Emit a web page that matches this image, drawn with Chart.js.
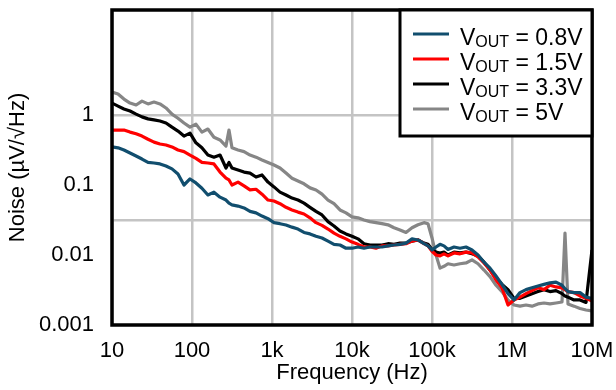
<!DOCTYPE html>
<html>
<head>
<meta charset="utf-8">
<script src="https://cdn.jsdelivr.net/npm/chart.js@4.4.1/dist/chart.umd.min.js"></script>
<style>
  html, body { margin: 0; padding: 0; background: #fff; }
  #wrap { width: 616px; height: 390px; }
</style>
</head>
<body>
<div id="wrap"><canvas id="noise-chart" width="616" height="390"></canvas></div>
<script>
// Frequency points (Hz) shared by every curve
const freqs = [10, 11.9, 14.1, 16.8, 20, 23.7, 28.2, 33.5, 39.8, 47.3,
    56.2, 66.8, 79.4, 94.4, 112, 133, 158, 188, 224, 266,
    290, 316, 376, 447, 531, 631, 750, 891, 1059, 1259,
    1496, 1778, 2113, 2512, 2985, 3548, 4217, 5012, 5957, 7079,
    8414, 10000, 11885, 14125, 16788, 19953, 23714, 28184, 33497, 39811,
    47315, 56234, 66834, 79433, 89125, 100000, 112202, 125893, 141254, 158489,
    188365, 223872, 266073, 316228, 375837, 446684, 530884, 630957, 749894, 891251,
    1059254, 1258925, 1496236, 1778279, 2113489, 2511886, 2985383, 3548134, 4216965, 4597000,
    5011872, 5956621, 7079458, 8413951, 10000000];

// Noise (uV/rtHz) per output voltage
const noise08 = [0.35, 0.34, 0.316, 0.287, 0.26, 0.235, 0.21, 0.206, 0.20, 0.187,
    0.17, 0.144, 0.10, 0.122, 0.107, 0.09, 0.072, 0.079, 0.067, 0.061,
    0.055, 0.052, 0.05, 0.047, 0.042, 0.040, 0.036, 0.033, 0.029, 0.028,
    0.0268, 0.025, 0.0235, 0.021, 0.020, 0.0185, 0.0175, 0.0158, 0.0142, 0.0139,
    0.0125, 0.0125, 0.013, 0.0125, 0.013, 0.013, 0.013, 0.0135, 0.0139, 0.0142,
    0.0148, 0.017, 0.0164, 0.0145, 0.0135, 0.0118, 0.013, 0.0142, 0.0135, 0.012,
    0.013, 0.0125, 0.013, 0.0118, 0.010, 0.0079, 0.0065, 0.0050, 0.0038, 0.0028,
    0.00228, 0.0029, 0.0032, 0.0034, 0.0036, 0.0038, 0.0040, 0.0041, 0.0037, 0.0033,
    0.0030, 0.0029, 0.0029, 0.0025, 0.0024];

const noise15 = [0.61, 0.61, 0.61, 0.57, 0.54, 0.50, 0.45, 0.41, 0.385, 0.373,
    0.35, 0.316, 0.30, 0.268, 0.24, 0.21, 0.206, 0.20, 0.153, 0.125,
    0.118, 0.10, 0.11, 0.097, 0.085, 0.087, 0.074, 0.061, 0.059, 0.054,
    0.048, 0.044, 0.041, 0.0385, 0.034, 0.029, 0.0265, 0.0235, 0.0205, 0.0185,
    0.017, 0.0153, 0.0142, 0.0130, 0.0130, 0.0125, 0.0135, 0.0135, 0.0139, 0.0142,
    0.0145, 0.0158, 0.0164, 0.0145, 0.0135, 0.0113, 0.010, 0.0097, 0.0104, 0.0097,
    0.0107, 0.0104, 0.011, 0.0107, 0.0094, 0.0077, 0.0061, 0.0044, 0.0034, 0.00193,
    0.00228, 0.0025, 0.0028, 0.0031, 0.0034, 0.0032, 0.0037, 0.0035, 0.0034, 0.0032,
    0.0030, 0.0029, 0.0026, 0.0024, 0.0022];

const noise33 = [1.48, 1.34, 1.22, 1.14, 1.03, 0.94, 0.88, 0.85, 0.82, 0.77,
    0.67, 0.59, 0.50, 0.55, 0.40, 0.34, 0.268, 0.25, 0.268, 0.175,
    0.21, 0.175, 0.164, 0.153, 0.148, 0.13, 0.139, 0.11, 0.094, 0.079,
    0.072, 0.065, 0.061, 0.055, 0.048, 0.042, 0.0373, 0.030, 0.026, 0.022,
    0.020, 0.0185, 0.017, 0.0145, 0.0139, 0.0139, 0.0139, 0.0145, 0.0142, 0.0148,
    0.0148, 0.0158, 0.0164, 0.0148, 0.0142, 0.012, 0.011, 0.0107, 0.011, 0.010,
    0.011, 0.0107, 0.011, 0.0104, 0.0097, 0.0079, 0.0061, 0.0047, 0.0038, 0.0032,
    0.0024, 0.0024, 0.0026, 0.0028, 0.0030, 0.0032, 0.0030, 0.0031, 0.0028, 0.0026,
    0.0025, 0.00228, 0.00228, 0.0021, 0.0118];

const noise50 = [2.13, 2.0, 1.69, 1.48, 1.39, 1.58, 1.44, 1.53, 1.44, 1.26,
    1.03, 0.90, 0.77, 0.67, 0.74, 0.57, 0.63, 0.48, 0.44, 0.36,
    0.61, 0.34, 0.316, 0.30, 0.268, 0.25, 0.228, 0.21, 0.193, 0.175,
    0.148, 0.125, 0.114, 0.104, 0.091, 0.085, 0.074, 0.061, 0.054, 0.044,
    0.040, 0.035, 0.034, 0.0316, 0.030, 0.029, 0.028, 0.027, 0.0245, 0.0228,
    0.021, 0.0245, 0.027, 0.029, 0.028, 0.0175, 0.010, 0.0065, 0.0069, 0.0075,
    0.0072, 0.0075, 0.0077, 0.0085, 0.0075, 0.0061, 0.0049, 0.0037, 0.0030, 0.00228,
    0.00193, 0.00186, 0.00193, 0.00186, 0.0020, 0.00206, 0.0020, 0.00206, 0.00213, 0.0206,
    0.0020, 0.00186, 0.00172, 0.00164, 0.00159];

const voutLabels = ['0.8V', '1.5V', '3.3V', '5V'];
const seriesColors = ['#114e6e', '#ff0000', '#000000', '#868686'];

const xTickValues = [10, 100, 1e3, 1e4, 1e5, 1e6, 1e7];
const xTickLabels = ['10', '100', '1k', '10k', '100k', '1M', '10M'];
const yTickValues = [0.001, 0.01, 0.1, 1];
const yTickLabels = ['0.001', '0.01', '0.1', '1'];
// horizontal grid lines sit every 1.5 decades
const yGridValues = [Math.pow(10, -1.5), 1];

const FONT = '"Liberation Sans", Arial, sans-serif';

function toPoints(values) {
    return freqs.map((f, i) => ({ x: f, y: values[i] }));
}

// Black frame around the plot
const framePlugin = {
    id: 'frame',
    afterDatasetsDraw(chart) {
        const a = chart.chartArea;
        const ctx = chart.ctx;
        ctx.save();
        ctx.strokeStyle = '#000';
        ctx.lineWidth = 3.5;
        ctx.strokeRect(a.left, a.top, a.right - a.left, a.bottom - a.top);
        ctx.restore();
    }
};

// Legend box with subscripted V_OUT
const voutLegend = {
    id: 'voutLegend',
    afterDatasetsDraw(chart) {
        const ctx = chart.ctx;
        const a = chart.chartArea;
        const boxLeft = 400, boxTop = a.top, boxRight = a.right, boxBottom = 136;
        ctx.save();
        ctx.fillStyle = '#fff';
        ctx.fillRect(boxLeft, boxTop, boxRight - boxLeft, boxBottom - boxTop);
        ctx.strokeStyle = '#000';
        ctx.lineWidth = 3;
        ctx.strokeRect(boxLeft, boxTop, boxRight - boxLeft, boxBottom - boxTop);

        voutLabels.forEach((lbl, i) => {
            const y = 34 + i * 25;
            ctx.strokeStyle = seriesColors[i];
            ctx.lineWidth = 3;
            ctx.beginPath();
            ctx.moveTo(413, y);
            ctx.lineTo(449, y);
            ctx.stroke();

            const base = y + 11;
            let x = 460;
            ctx.fillStyle = '#000';
            ctx.textBaseline = 'alphabetic';
            ctx.textAlign = 'left';
            ctx.font = '23px ' + FONT;
            ctx.fillText('V', x, base);
            x += ctx.measureText('V').width;
            ctx.font = '16px ' + FONT;
            ctx.fillText('OUT', x, base + 2);
            x += ctx.measureText('OUT').width;
            ctx.font = '23px ' + FONT;
            ctx.fillText(' = ' + lbl, x, base);
        });
        ctx.restore();
    }
};

const ctx = document.getElementById('noise-chart');
new Chart(ctx, {
    type: 'line',
    data: {
        datasets: [noise08, noise15, noise33, noise50].map((vals, i) => ({
            label: 'VOUT = ' + voutLabels[i],
            data: toPoints(vals),
            borderColor: seriesColors[i],
            borderWidth: 3.2,
            borderJoinStyle: 'round',
            pointRadius: 0,
            tension: 0,
            fill: false
        }))
    },
    options: {
        responsive: false,
        animation: false,
        layout: { padding: { top: 10, right: 24, left: 0, bottom: 0 } },
        plugins: {
            legend: { display: false },
            tooltip: { enabled: false }
        },
        scales: {
            x: {
                type: 'logarithmic',
                min: 10,
                max: 1e7,
                afterBuildTicks(scale) {
                    scale.ticks = xTickValues.map(v => ({ value: v }));
                },
                afterFit(scale) {
                    scale.height = 65;
                    scale.paddingLeft = 0;
                    scale.paddingRight = 0;
                },
                grid: { color: '#c4c4c4', lineWidth: 2.5, drawTicks: false },
                border: { display: false },
                ticks: {
                    color: '#000',
                    font: { family: FONT, size: 22 },
                    padding: 13,
                    maxRotation: 0,
                    autoSkip: false,
                    callback: (v) => {
                        const i = xTickValues.indexOf(v);
                        return i >= 0 ? xTickLabels[i] : '';
                    }
                },
                title: {
                    display: true,
                    text: 'Frequency (Hz)',
                    color: '#000',
                    font: { family: FONT, size: 22 },
                    padding: { top: 0, bottom: 4 }
                }
            },
            y: {
                type: 'logarithmic',
                min: 0.001,
                max: Math.pow(10, 1.5),
                afterBuildTicks(scale) {
                    const vals = [0.001, Math.pow(10, -1.5), 0.01, 0.1, 1];
                    scale.ticks = vals.map(v => ({ value: v }));
                },
                afterFit(scale) {
                    scale.width = 112;
                    scale.paddingTop = 0;
                    scale.paddingBottom = 0;
                },
                grid: {
                    drawTicks: false,
                    lineWidth: 2.5,
                    color: (c) => {
                        const v = c.tick ? c.tick.value : null;
                        return yGridValues.some(g => v !== null && Math.abs(Math.log10(v) - Math.log10(g)) < 1e-6)
                            ? '#c4c4c4' : 'rgba(0,0,0,0)';
                    }
                },
                border: { display: false },
                ticks: {
                    color: '#000',
                    font: { family: FONT, size: 22 },
                    padding: 18,
                    autoSkip: false,
                    callback: (v) => {
                        const i = yTickValues.findIndex(t => Math.abs(t - v) < t * 1e-6);
                        return i >= 0 ? yTickLabels[i] : '';
                    }
                },
                title: {
                    display: true,
                    text: 'Noise (\u00b5V/\u221aHz)',
                    color: '#000',
                    font: { family: FONT, size: 22 },
                    padding: { top: 5, bottom: 0 }
                }
            }
        }
    },
    plugins: [framePlugin, voutLegend]
});
</script>
</body>
</html>
